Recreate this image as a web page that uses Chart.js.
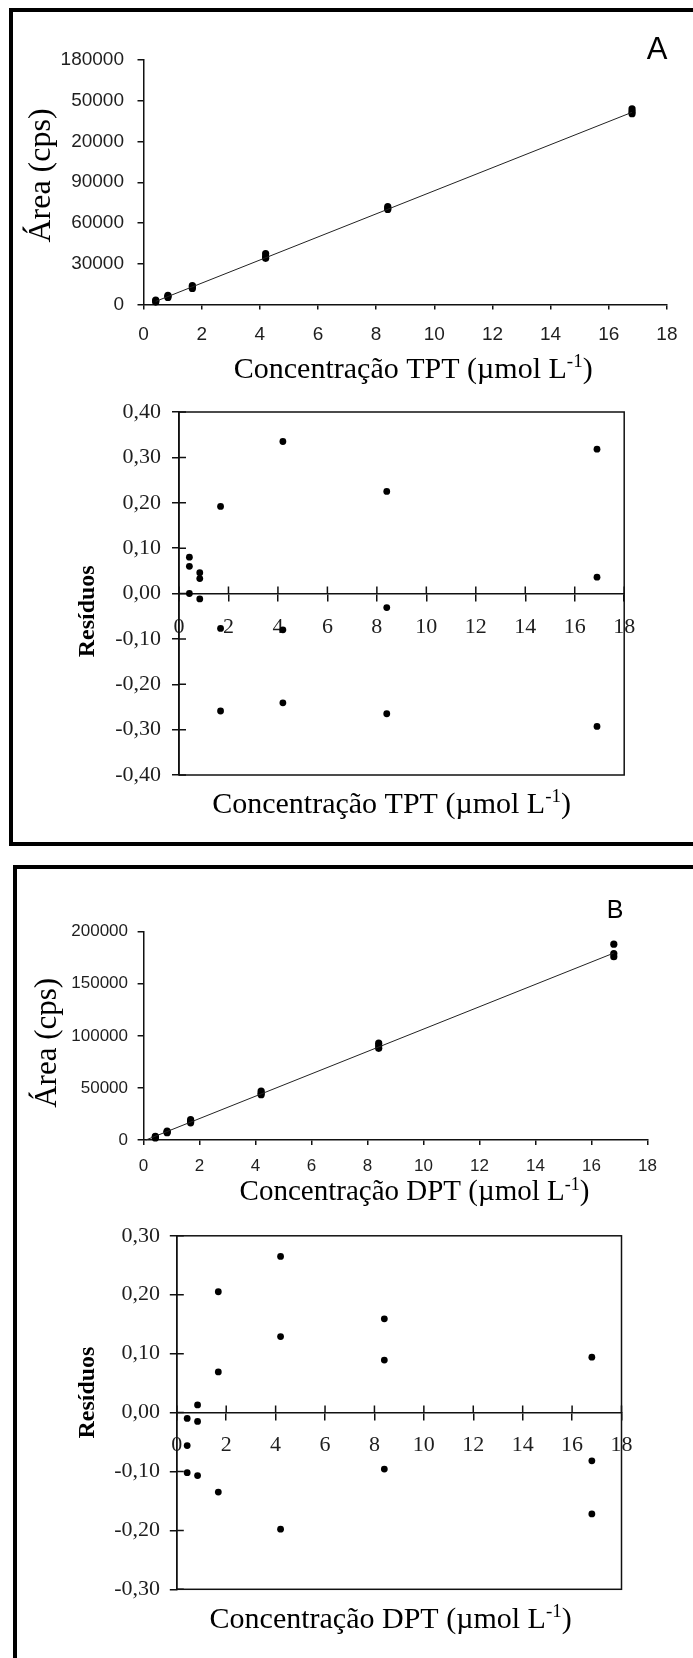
<!DOCTYPE html>
<html><head><meta charset="utf-8">
<script src="https://cdn.jsdelivr.net/npm/chart.js@4.4.1/dist/chart.umd.min.js"></script>
<style>
html,body{margin:0;padding:0;background:#fff;}
body{width:693px;height:1658px;overflow:hidden;position:relative}
.panel{position:absolute;border:4px solid #000;box-sizing:border-box}
canvas{position:absolute;left:0}
</style></head><body>
<div class="panel" style="left:9px;top:8px;width:800px;height:838px"></div>
<div class="panel" style="left:13px;top:865px;width:800px;height:900px"></div>
<canvas id="cA1" width="693" height="400" style="top:0px;width:693px;height:400px"></canvas>
<canvas id="cA2" width="693" height="450" style="top:390px;width:693px;height:450px"></canvas>
<canvas id="cB1" width="693" height="330" style="top:880px;width:693px;height:330px"></canvas>
<canvas id="cB2" width="693" height="443" style="top:1215px;width:693px;height:443px"></canvas>
<script>
// ---------------- DATA ----------------
const xTickLabels = ['0','2','4','6','8','10','12','14','16','18'];

// Panel A - calibration (TPT)
const concA = [0.42, 0.84, 1.68, 4.2, 8.4, 16.8];
const areaA_r1 = [1800, 5200, 11800, 34000, 70000, 140500];
const areaA_r2 = [2500, 6000, 13000, 35500, 71000, 142000];
const areaA_r3 = [3200, 6800, 14000, 37500, 72000, 144000];
const fitA_x = [0.42, 16.8];
const fitA_y = [2300, 141500];
const yTickLabelsA = ['0','30000','60000','90000','20000','50000','180000'];

// Panel A - residuals
const concResA = [0.42, 0.84, 1.68, 4.2, 8.4, 16.9];
const resA_r1 = [0.080, 0.046, 0.192, 0.335, 0.225, 0.318];
const resA_r2 = [0.060, 0.033, -0.077, -0.080, -0.031, 0.036];
const resA_r3 = [0.000, -0.012, -0.259, -0.241, -0.265, -0.293];
const resTickLabelsA = ['-0,40','-0,30','-0,20','-0,10','0,00','0,10','0,20','0,30','0,40'];

// Panel B - calibration (DPT)
const concB = [0.42, 0.84, 1.68, 4.2, 8.4, 16.8];
const areaB_r1 = [2000, 7000, 16500, 43500, 88000, 176000];
const areaB_r2 = [3000, 7800, 18000, 45000, 90500, 179000];
const areaB_r3 = [3500, 8500, 19500, 47000, 93000, 188000];
const fitB_x = [0.08, 16.8];
const fitB_y = [0, 179500];
const yTickLabelsB = ['0','50000','100000','150000','200000'];

// Panel B - residuals
const concResB = [0.42, 0.84, 1.68, 4.2, 8.4, 16.8];
const resB_r1 = [-0.010, 0.013, 0.205, 0.265, 0.159, 0.094];
const resB_r2 = [-0.056, -0.015, 0.069, 0.129, 0.089, -0.082];
const resB_r3 = [-0.102, -0.107, -0.135, -0.198, -0.096, -0.172];
const resTickLabelsB = ['-0,30','-0,20','-0,10','0,00','0,10','0,20','0,30'];

const titleTPT = ['Concentração TPT (µmol L', '-1', ')'];
const titleDPT = ['Concentração DPT (µmol L', '-1', ')'];
const titleArea = 'Área (cps)';
const titleRes = 'Resíduos';

// ---------------- HELPERS ----------------
const SANS = '"Liberation Sans", Arial, sans-serif';
const SERIF = '"Liberation Serif", "Times New Roman", serif';
const TICKC = '#1e1e1e';
const AXC = '#111';

function pts(xs, ...reps) {
  const out = [];
  reps.forEach(r => r.forEach((v, i) => out.push({x: xs[i], y: v})));
  return out;
}
function line(xs, ys) { return xs.map((x, i) => ({x, y: ys[i]})); }

const annot = {
  id: 'annot',
  afterDraw(chart, args, o) {
    const {ctx, chartArea: ca} = chart;
    ctx.save();
    ctx.fillStyle = '#000';
    ctx.textBaseline = 'alphabetic';
    if (o.xTitle) {
      const t = o.xTitle;
      const nf = t.size + 'px ' + SERIF, sf = Math.round(t.size * 0.62) + 'px ' + SERIF;
      ctx.font = nf; const w1 = ctx.measureText(t.parts[0]).width, w3 = ctx.measureText(t.parts[2]).width;
      ctx.font = sf; const w2 = ctx.measureText(t.parts[1]).width;
      let x = (ca.left + ca.right) / 2 + t.dx - (w1 + w2 + w3) / 2;
      const y = ca.bottom + t.dy;
      ctx.textAlign = 'left';
      ctx.font = nf; ctx.fillText(t.parts[0], x, y); x += w1;
      ctx.font = sf; ctx.fillText(t.parts[1], x, y - t.size * 0.36); x += w2;
      ctx.font = nf; ctx.fillText(t.parts[2], x, y);
    }
    if (o.yTitle) {
      const t = o.yTitle;
      ctx.save();
      ctx.translate(ca.left + t.dx, (ca.top + ca.bottom) / 2 + t.dy);
      ctx.rotate(-Math.PI / 2);
      ctx.font = t.font; ctx.textAlign = 'center';
      ctx.fillText(t.text, 0, 0);
      ctx.restore();
    }
    if (o.corner) {
      ctx.font = o.corner.font; ctx.textAlign = 'center';
      ctx.fillText(o.corner.text, o.corner.x, o.corner.y);
    }
    ctx.restore();
  }
};

const resFrame = {
  id: 'resFrame',
  beforeDatasetsDraw(chart, args, o) {
    if (!o || !o.on) return;
    const {ctx, chartArea: ca, scales: {x, y}} = chart;
    ctx.save();
    ctx.strokeStyle = AXC; ctx.lineWidth = 1.5;
    ctx.strokeRect(ca.left, ca.top, ca.right - ca.left, ca.bottom - ca.top);
    const y0 = y.getPixelForValue(0);
    ctx.beginPath();
    x.ticks.forEach(t => { const px = x.getPixelForValue(t.value); ctx.moveTo(px, y0 - o.len); ctx.lineTo(px, y0); });
    y.ticks.forEach(t => { const py = y.getPixelForValue(t.value); ctx.moveTo(ca.left, py); ctx.lineTo(ca.left + o.len, py); });
    ctx.stroke();
    ctx.restore();
  }
};

function common(canvasH, area) {
  return {
    responsive: false, animation: false, devicePixelRatio: 1, events: [],
    layout: {padding: {left: 0, top: area.top, right: 693 - area.right, bottom: area.bottomPad || 0}},
  };
}

// ---------------- TOP CHART ----------------
function topChart(id, canvasH, area, xs, reps, fx, fy, yMax, yStep, yLabels, f, titleParts, tdx, tdy, ydx, ydy, yfont, corner) {
  const opts = common(canvasH, area);
  opts.scales = {
    x: {
      type: 'linear', min: 0, max: 18, position: 'bottom',
      ticks: {stepSize: 2, autoSkip: false, maxRotation: 0, callback: (v, i) => xTickLabels[i],
        font: {family: SANS, size: f.xs, lineHeight: 1}, color: TICKC, padding: f.xp},
      grid: {drawOnChartArea: false, drawTicks: true, tickLength: 5, color: AXC, lineWidth: 1.5},
      border: {display: true, color: AXC, width: 1.5},
      afterFit: s => { s.height = canvasH - area.bottom; }
    },
    y: {
      type: 'linear', min: 0, max: yMax, position: 'left',
      ticks: {stepSize: yStep, autoSkip: false, callback: (v, i) => yLabels[i],
        font: {family: SANS, size: f.ys, lineHeight: 1}, color: TICKC, padding: f.yp},
      grid: {drawOnChartArea: false, drawTicks: true, tickLength: 6, color: AXC, lineWidth: 1.5},
      border: {display: true, color: AXC, width: 1.5},
      afterFit: s => { s.width = area.left; }
    }
  };
  opts.plugins = {
    legend: {display: false}, tooltip: {enabled: false},
    annot: {
      xTitle: {parts: titleParts, size: f.ts, dx: tdx, dy: tdy},
      yTitle: {text: titleArea, font: yfont, dx: ydx, dy: ydy},
      corner: corner
    }
  };
  return new Chart(document.getElementById(id), {
    type: 'scatter',
    data: {datasets: [
      {data: line(fx, fy), showLine: true, borderColor: '#222', borderWidth: 1, pointRadius: 0, clip: false},
      {data: pts(xs, ...reps), pointRadius: 3.6, pointBackgroundColor: '#000', pointBorderWidth: 0, clip: false}
    ]},
    options: opts,
    plugins: [annot]
  });
}

// ---------------- RESIDUAL CHART ----------------
function resChart(id, canvasH, area, xs, reps, yMin, yMax, yLabels, f, titleParts, tdx, tdy, ydx, ydy) {
  const opts = common(canvasH, area);
  opts.layout.padding.bottom = canvasH - area.bottom;
  opts.scales = {
    x: {
      type: 'linear', min: 0, max: 18, position: {y: 0},
      ticks: {stepSize: 2, autoSkip: false, maxRotation: 0, callback: (v, i) => xTickLabels[i],
        font: {family: SERIF, size: f.xs, lineHeight: 1}, color: TICKC, padding: f.xp},
      grid: {drawOnChartArea: false, drawTicks: true, tickLength: 7, color: AXC, lineWidth: 1.5},
      border: {display: true, color: AXC, width: 1.5}
    },
    y: {
      type: 'linear', min: yMin, max: yMax, position: 'left',
      ticks: {stepSize: 0.1, autoSkip: false, callback: (v, i) => yLabels[i],
        font: {family: SERIF, size: f.ys, lineHeight: 1}, color: TICKC, padding: f.yp},
      grid: {drawOnChartArea: false, drawTicks: true, tickLength: 7, color: AXC, lineWidth: 1.5},
      border: {display: true, color: AXC, width: 1.5},
      afterFit: s => { s.width = area.left; }
    }
  };
  opts.plugins = {
    legend: {display: false}, tooltip: {enabled: false},
    resFrame: {on: true, len: 7},
    annot: {
      xTitle: {parts: titleParts, size: f.ts, dx: tdx, dy: tdy},
      yTitle: {text: titleRes, font: 'bold 24px ' + SERIF, dx: ydx, dy: ydy}
    }
  };
  return new Chart(document.getElementById(id), {
    type: 'scatter',
    data: {datasets: [
      {data: pts(xs, ...reps), pointRadius: 3.4, pointBackgroundColor: '#000', pointBorderWidth: 0, clip: false}
    ]},
    options: opts,
    plugins: [resFrame, annot]
  });
}

// Panel A, calibration (canvas top 0)
topChart('cA1', 400, {left: 143.5, right: 675.4, top: 60, bottom: 304.5},
  concA, [areaA_r1, areaA_r2, areaA_r3], fitA_x, fitA_y, 180000, 30000, yTickLabelsA,
  {xs: 19, xp: 15.5, ys: 19, yp: 13.5, ts: 30}, titleTPT, 8, 73.5, -93.5, -6.75,
  '32px ' + SERIF, {text: 'A', font: '31px ' + SANS, x: 657, y: 59});

// Panel A, residuals (canvas top 390)
resChart('cA2', 450, {left: 179, right: 624.2, top: 19.3, bottom: 385},
  concResA, [resA_r1, resA_r2, resA_r3], -0.4, 0.4, resTickLabelsA,
  {xs: 22, xp: 15.7, ys: 22, yp: 11, ts: 30}, titleTPT, -10, 37.5, -85, 17.8);

// Panel B, calibration (canvas top 880)
topChart('cB1', 330, {left: 143.6, right: 647.4, top: 51.7, bottom: 260},
  concB, [areaB_r1, areaB_r2, areaB_r3], fitB_x, fitB_y, 200000, 50000, yTickLabelsB,
  {xs: 17, xp: 13.2, ys: 17, yp: 9.6, ts: 29}, titleDPT, 19, 60, -87.6, 7,
  '31px ' + SERIF, {text: 'B', font: '25px ' + SANS, x: 615, y: 38});

// Panel B, residuals (canvas top 1215)
resChart('cB2', 443, {left: 176.8, right: 621.5, top: 20.7, bottom: 374.3},
  concResB, [resB_r1, resB_r2, resB_r3], -0.3, 0.3, resTickLabelsB,
  {xs: 22, xp: 15, ys: 22, yp: 9.8, ts: 30}, titleDPT, -8.5, 38.7, -82.8, -20);
</script>
</body></html>
